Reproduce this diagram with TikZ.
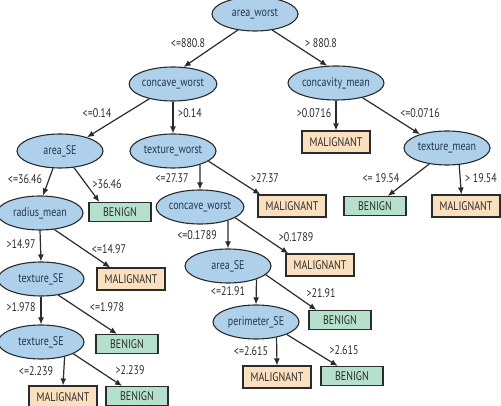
\documentclass[tikz,border=0pt]{standalone}
\usepackage{fontspec}
\setmainfont{PT Sans}[FakeStretch=0.8]
\usepackage{tikz}
\usetikzlibrary{arrows.meta,shapes.geometric,positioning}

\definecolor{splitblue}{HTML}{AED0EA}
\definecolor{malfill}{HTML}{FBE0C0}
\definecolor{benfill}{HTML}{B5E0CC}
\definecolor{inkline}{HTML}{2B2B2B}
\definecolor{inktext}{HTML}{23374F}

\begin{document}
\begin{tikzpicture}[
        x=1pt, y=-1pt,
        every node/.style={font=\fontsize{12.5}{14}\selectfont, inner sep=0pt},
        split/.style={ellipse, draw=inkline, line width=1.1pt, fill=splitblue, text=inktext, minimum width=86pt, minimum height=34pt},
        malig/.style={rectangle, draw=inkline, line width=1.1pt, fill=malfill, text=inkline, minimum width=68pt, minimum height=22pt},
        benign/.style={rectangle, draw=inkline, line width=1.1pt, fill=benfill, text=inkline, minimum width=62pt, minimum height=19pt},
        lbl/.style={text=inkline},
        edge/.style={draw=inkline, line width=1.2pt, -{Latex[length=7pt,width=6pt]}},
    ]
    \useasboundingbox (0,0) rectangle (501,406);

    % === SPLITS ===
    \node[split] (aw) at (255,14) {area\_worst};
    \node[split] (cw) at (173,84) {concave\_worst};
    \node[split] (cm) at (336,83) {concavity\_mean};
    \node[split] (ase) at (60,151) {area\_SE};
    \node[split] (texw) at (173,151) {texture\_worst};
    \node[split] (tm) at (447,148) {texture\_mean};
    \node[split] (rm) at (40,213) {radius\_mean};
    \node[split] (cw2) at (200,207) {concave\_worst};
    \node[split] (tse) at (41,279) {texture\_SE};
    \node[split] (ase2) at (228,266) {area\_SE};
    \node[split] (tse2) at (41,342) {texture\_SE};
    \node[split] (perim) at (256,322) {perimeter\_SE};

    % === LEAVES ===
    \node[malig] (mal1) at (336,142) {MALIGNANT};
    \node[benign] (ben1) at (120,212) {BENIGN};
    \node[malig] (mal2) at (292,206) {MALIGNANT};
    \node[benign] (ben2) at (375,206) {BENIGN};
    \node[malig] (mal3) at (466,206) {MALIGNANT};
    \node[malig] (mal4) at (131,279) {MALIGNANT};
    \node[malig] (mal5) at (320,265) {MALIGNANT};
    \node[benign] (ben3) at (127,344) {BENIGN};
    \node[benign] (ben4) at (340,320) {BENIGN};
    \node[malig] (mal6) at (63,397) {MALIGNANT};
    \node[benign] (ben5) at (137,396) {BENIGN};
    \node[malig] (mal7) at (277,377) {MALIGNANT};
    \node[benign] (ben6) at (352,376) {BENIGN};

    % === EDGES ===
    \draw[edge] (aw.-137) -- (cw.58);
    \draw[edge] (aw.-43) -- (cm.117);
    \draw[edge] (cw.-148) -- (ase.27);
    \draw[edge] (cw.south) -- (texw.north);
    \draw[edge] (cm.south) -- (mal1.north);
    \draw[edge] (cm.-29) -- (tm.153);
    \draw[edge] (ase.-112) -- (rm.80);
    \draw[edge] (ase.-50) -- (ben1.154);
    \draw[edge] (texw.-27) -- (cw2.north);
    \draw[edge] (texw.-16) -- (mal2.160);
    \draw[edge] (tm.-138) -- (ben2.38);
    \draw[edge] (tm.-54) -- (mal3.112);
    \draw[edge] (rm.south) -- (tse.north);
    \draw[edge] (rm.-49) -- (mal4.151);
    \draw[edge] (cw2.-26) -- (ase2.north);
    \draw[edge] (cw2.-17) -- (mal5.160);
    \draw[edge] (tse.south) -- (tse2.north);
    \draw[edge] (tse.-43) -- (ben3.135);
    \draw[edge] (ase2.-25) -- (perim.north);
    \draw[edge] (ase2.-13) -- (ben4.157);
    \draw[edge] (tse2.-32) -- (mal6.north);
    \draw[edge] (tse2.-20) -- (ben5.146);
    \draw[edge] (perim.-37) -- (mal7.north);
    \draw[edge] (perim.-22) -- (ben6.145);

    % === EDGE LABELS ===
    \node[lbl] (l1) at (188,43) {<=880.8};
    \node[lbl] (l2) at (321,43) {> 880.8};
    \node[lbl] (l3) at (97,113) {<=0.14};
    \node[lbl] (l4) at (190,113) {>0.14};
    \node[lbl] (l5) at (314,113) {>0.0716};
    \node[lbl] (l6) at (420,113) {<=0.0716};
    \node[lbl] (l7) at (25,179) {<=36.46};
    \node[lbl] (l8) at (107,184) {>36.46};
    \node[lbl] (l9) at (172,178) {<=27.37};
    \node[lbl] (l10) at (265,178) {>27.37};
    \node[lbl] (l11) at (381,178) {<= 19.54};
    \node[lbl] (l12) at (481,178) {> 19.54};
    \node[lbl] (l13) at (21,244) {>14.97};
    \node[lbl] (l14) at (109,249) {<=14.97};
    \node[lbl] (l15) at (197,235) {<=0.1789};
    \node[lbl] (l16) at (296,237) {>0.1789};
    \node[lbl] (l17) at (228,291) {<=21.91};
    \node[lbl] (l18) at (321,293) {>21.91};
    \node[lbl] (l19) at (21,307) {>1.978};
    \node[lbl] (l20) at (107,307) {<=1.978};
    \node[lbl] (l21) at (36,371) {<=2.239};
    \node[lbl] (l22) at (130,370) {>2.239};
    \node[lbl] (l23) at (251,351) {<=2.615};
    \node[lbl] (l24) at (344,350) {>2.615};

\end{tikzpicture}
\end{document}
